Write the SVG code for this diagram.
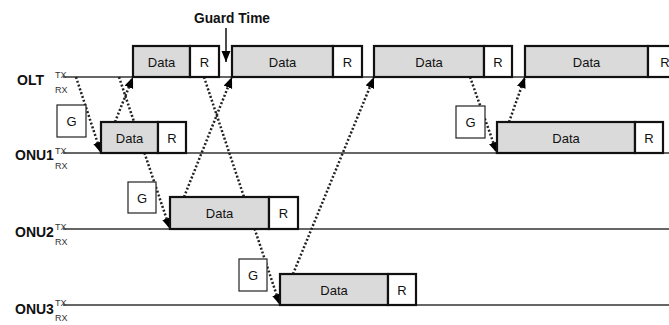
<svg xmlns="http://www.w3.org/2000/svg" width="669" height="325" viewBox="0 0 669 325">
<defs>
<style>
.tl{stroke:#333;stroke-width:1.5;fill:none}
.data{fill:#dadada;stroke:#111;stroke-width:2.2}
.r{fill:#fff;stroke:#111;stroke-width:2.2}
.g{fill:#fff;stroke:#222;stroke-width:1.2}
.bt{font-family:"Liberation Sans",Arial,sans-serif;font-size:13px;fill:#111;text-anchor:middle}
.lbl{font-family:"Liberation Sans",Arial,sans-serif;font-size:14px;font-weight:bold;fill:#111}
.sm{font-family:"Liberation Sans",Arial,sans-serif;font-size:9px;fill:#333}
.dot{stroke:#222;stroke-width:2.5;stroke-dasharray:2 2;fill:none;marker-end:url(#ah)}
</style>
<marker id="ah" markerUnits="userSpaceOnUse" markerWidth="12" markerHeight="10" refX="11" refY="4.5" orient="auto">
<path d="M0,0 L11,4.5 L0,9 z" fill="#000"/>
</marker>
</defs>
<rect width="669" height="325" fill="#fff"/>
<g id="timelines">
<line class="tl" x1="63" y1="77" x2="669" y2="77"/>
<line class="tl" x1="63" y1="153" x2="669" y2="153"/>
<line class="tl" x1="63" y1="229" x2="669" y2="229"/>
<line class="tl" x1="63" y1="305" x2="669" y2="305"/>
</g>
<g id="labels">
<text class="lbl" x="17" y="85">OLT</text>
<text class="sm" x="55" y="78">TX</text><text class="sm" x="55" y="93">RX</text>
<text class="lbl" x="15" y="160">ONU1</text>
<text class="sm" x="55" y="154">TX</text><text class="sm" x="55" y="169">RX</text>
<text class="lbl" x="15" y="237">ONU2</text>
<text class="sm" x="55" y="230">TX</text><text class="sm" x="55" y="245">RX</text>
<text class="lbl" x="15" y="314">ONU3</text>
<text class="sm" x="55" y="306">TX</text><text class="sm" x="55" y="321">RX</text>
</g>
<g id="connectors">
<line class="dot" x1="76" y1="77" x2="101" y2="153"/>
<line class="dot" x1="115" y1="122" x2="133" y2="77"/>
<line class="dot" x1="119" y1="77" x2="170" y2="229"/>
<line class="dot" x1="184" y1="197" x2="232" y2="77"/>
<line class="dot" x1="204" y1="77" x2="280" y2="305"/>
<line class="dot" x1="293" y1="274" x2="374" y2="77"/>
<line class="dot" x1="470" y1="77" x2="497" y2="153"/>
<line class="dot" x1="509" y1="122" x2="525" y2="77"/>
<line x1="226" y1="28" x2="226" y2="62" stroke="#111" stroke-width="1.5" marker-end="url(#ah)"/>
</g>
<g id="guard-time">
<text class="lbl" x="194" y="23" font-size="13.5" textLength="76" lengthAdjust="spacingAndGlyphs">Guard Time</text>
</g>
<g id="olt-slot1">
<rect class="data" x="133" y="46" width="57" height="31"/><text class="bt" x="161.5" y="67">Data</text>
<rect class="r" x="190" y="46" width="29" height="31"/><text class="bt" x="204.5" y="67">R</text>
</g>
<g id="olt-slot2">
<rect class="data" x="232" y="46" width="101" height="31"/><text class="bt" x="282.5" y="67">Data</text>
<rect class="r" x="333" y="46" width="29" height="31"/><text class="bt" x="347.5" y="67">R</text>
</g>
<g id="olt-slot3">
<rect class="data" x="374" y="46" width="110" height="31"/><text class="bt" x="429" y="67">Data</text>
<rect class="r" x="484" y="46" width="28" height="31"/><text class="bt" x="498" y="67">R</text>
</g>
<g id="olt-slot4">
<rect class="data" x="525" y="46" width="123" height="31"/><text class="bt" x="586.5" y="67">Data</text>
<rect class="r" x="648" y="46" width="29" height="31"/><text class="bt" x="665" y="67">R</text>
</g>
<g id="onu1-g1"><rect class="g" x="57" y="105" width="29" height="32"/><text class="bt" x="71.5" y="126">G</text></g>
<g id="onu1-slot1">
<rect class="data" x="101" y="122" width="57" height="31"/><text class="bt" x="129.5" y="143">Data</text>
<rect class="r" x="158" y="122" width="28" height="31"/><text class="bt" x="172" y="143">R</text>
</g>
<g id="onu1-g2"><rect class="g" x="456" y="106" width="29" height="32"/><text class="bt" x="470.5" y="127">G</text></g>
<g id="onu1-slot2">
<rect class="data" x="497" y="122" width="138" height="31"/><text class="bt" x="566" y="143">Data</text>
<rect class="r" x="635" y="122" width="28" height="31"/><text class="bt" x="649" y="143">R</text>
</g>
<g id="onu2-g"><rect class="g" x="128" y="182" width="28" height="31"/><text class="bt" x="142" y="203">G</text></g>
<g id="onu2-slot">
<rect class="data" x="170" y="197" width="99" height="32"/><text class="bt" x="219.5" y="218">Data</text>
<rect class="r" x="269" y="197" width="29" height="32"/><text class="bt" x="283.5" y="218">R</text>
</g>
<g id="onu3-g"><rect class="g" x="239" y="259" width="28" height="32"/><text class="bt" x="253" y="280">G</text></g>
<g id="onu3-slot">
<rect class="data" x="280" y="274" width="108" height="31"/><text class="bt" x="334" y="295">Data</text>
<rect class="r" x="388" y="274" width="28" height="31"/><text class="bt" x="402" y="295">R</text>
</g>
</svg>
